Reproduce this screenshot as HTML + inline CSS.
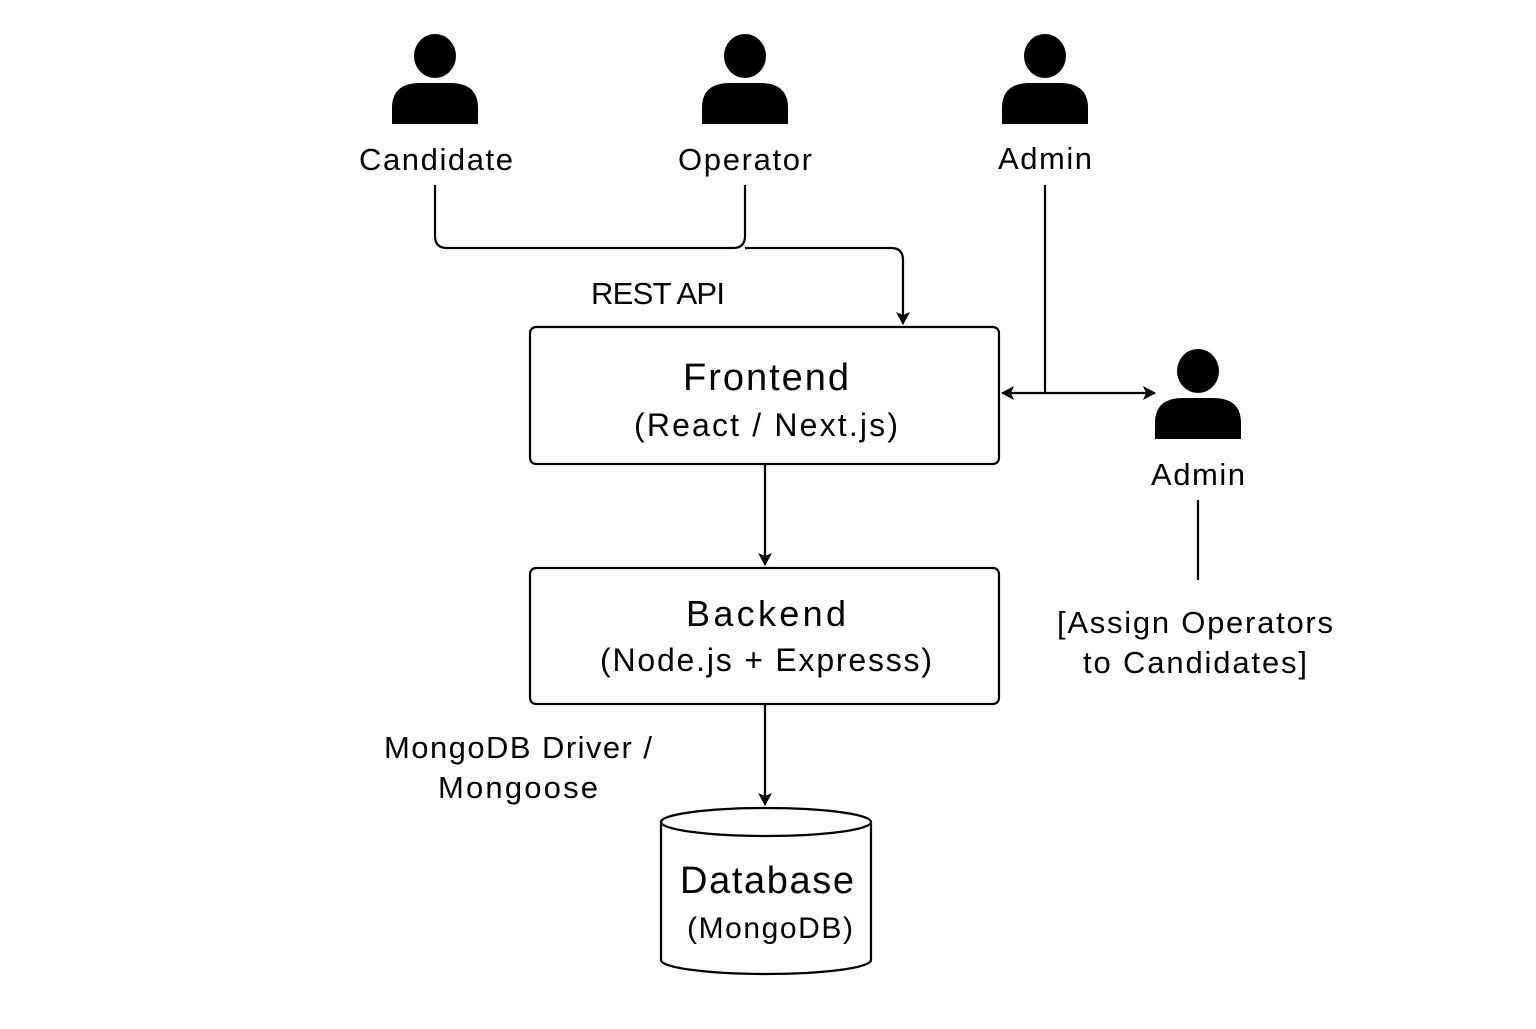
<!DOCTYPE html>
<html><head><meta charset="utf-8"><style>
html,body{margin:0;padding:0;background:#fff}
svg text{font-family:"Liberation Sans",sans-serif;fill:#000}
</style></head><body>
<svg width="1536" height="1024" viewBox="0 0 1536 1024" xmlns="http://www.w3.org/2000/svg">
<defs>
<marker id="a" markerWidth="14" markerHeight="14" refX="12" refY="7" orient="auto" markerUnits="userSpaceOnUse">
<path d="M0,0 L13,7 L0,14 L3,7 Z" fill="#000"/></marker>
<g id="p"><ellipse cx="0" cy="0" rx="21" ry="22"/><path d="M-43,68 L-43,52 Q-43,27 -15,27 L15,27 Q43,27 43,52 L43,68 Z"/></g>
</defs>
<use href="#p" x="435" y="56"/>
<use href="#p" x="745" y="56"/>
<use href="#p" x="1045" y="56"/>
<use href="#p" x="1198" y="371"/>
<g font-size="31" text-anchor="middle">
<text x="436" y="170" textLength="154">Candidate</text>
<text x="745" y="170" textLength="134">Operator</text>
<text x="1045" y="169" textLength="94">Admin</text>
<text x="1198" y="485" textLength="94">Admin</text>
<text x="658" y="304" textLength="134">REST API</text>
<text x="1195" y="633" textLength="276">[Assign Operators</text>
<text x="1195" y="673" textLength="224">to Candidates]</text>
<text x="518" y="758" textLength="268">MongoDB Driver /</text>
<text x="518" y="798" textLength="160">Mongoose</text>
</g>
<g fill="none" stroke="#000" stroke-width="2.2">
<path d="M435,185 V236 Q435,248 447,248 H733 Q745,248 745,236 V185"/>
<path d="M745,248 H891 Q903,248 903,260 V324" marker-end="url(#a)"/>
<rect x="530" y="327" width="469" height="137" rx="6"/>
<rect x="530" y="568" width="469" height="136" rx="6"/>
<path d="M765,464 V565" marker-end="url(#a)"/>
<path d="M765,704 V805" marker-end="url(#a)"/>
<path d="M1045,185 V393"/>
<path d="M1045,393 H1002" marker-end="url(#a)"/>
<path d="M1045,393 H1155" marker-end="url(#a)"/>
<path d="M1198,500 V580"/>
<path d="M661,822 V960 A105,14 0 0 0 871,960 V822"/>
<ellipse cx="766" cy="822" rx="105" ry="14"/>
</g>
<g text-anchor="middle">
<text x="766" y="390" font-size="38" textLength="166">Frontend</text>
<text x="766" y="436" font-size="32" textLength="264">(React / Next.js)</text>
<text x="766" y="626" font-size="36" textLength="160">Backend</text>
<text x="766" y="671" font-size="32" textLength="332">(Node.js + Expresss)</text>
<text x="767" y="893" font-size="38" textLength="174">Database</text>
<text x="770" y="938" font-size="30" textLength="166">(MongoDB)</text>
</g>
</svg>
</body></html>
